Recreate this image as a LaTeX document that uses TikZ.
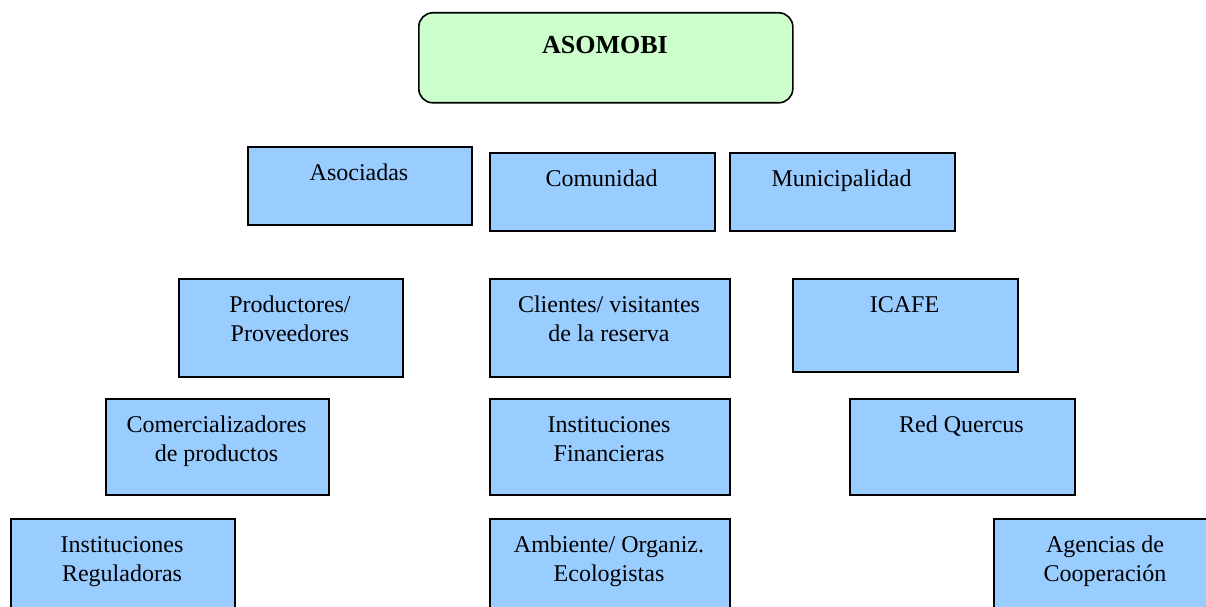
\documentclass[tikz,border=0pt]{standalone}
\usepackage{fontspec}
\setmainfont{Liberation Serif}
\definecolor{boxblue}{HTML}{99CCFF}
\definecolor{boxgreen}{HTML}{CCFFCC}
\begin{document}
\begin{tikzpicture}[x=1pt,y=-1pt,
  box/.style={draw=black, line width=1.6pt, fill=boxblue, rectangle, inner sep=0pt, anchor=north west},
  rootbox/.style={draw=black, line width=1.6pt, fill=boxgreen, rounded corners=14pt, rectangle, inner sep=0pt, anchor=north west},
  txt/.style={anchor=base, align=center, inner sep=0pt, font=\fontsize{24}{29}\selectfont},
  roottxt/.style={anchor=base, inner sep=0pt, font=\fontsize{26}{30}\selectfont\bfseries}]
\useasboundingbox (0,0) rectangle (1206,607);
\begin{scope}
\clip (0,0) rectangle (1206,607);
% root
\node[rootbox, minimum width=374pt, minimum height=90pt] (root) at (418,12) {};
\node[roottxt] (roott) at (605,54) {ASOMOBI};
% row 1
\node[box, minimum width=224pt, minimum height=78pt] (asoc) at (247,146) {};
\node[txt] (asoct) at (359,180) {Asociadas};
\node[box, minimum width=225pt, minimum height=78pt] (comu) at (489,152) {};
\node[txt] (comut) at (601.5,186) {Comunidad};
\node[box, minimum width=225pt, minimum height=78pt] (muni) at (729,152) {};
\node[txt] (munit) at (841.5,186) {Municipalidad};
% row 2
\node[box, minimum width=224pt, minimum height=98pt] (prod) at (178,278) {};
\node[txt] (prodt) at (290,341) {Productores/\\Proveedores};
\node[box, minimum width=240pt, minimum height=98pt] (clie) at (489,278) {};
\node[txt] (cliet) at (609,341) {Clientes/ visitantes\\de la reserva};
\node[box, minimum width=225pt, minimum height=93pt] (icafe) at (792,278) {};
\node[txt] (icafet) at (904.5,312) {ICAFE};
% row 3
\node[box, minimum width=223pt, minimum height=96pt] (come) at (105,398) {};
\node[txt] (comet) at (216.5,461) {Comercializadores\\de productos};
\node[box, minimum width=240pt, minimum height=96pt] (fina) at (489,398) {};
\node[txt] (finat) at (609,461) {Instituciones\\Financieras};
\node[box, minimum width=225pt, minimum height=96pt] (quer) at (849,398) {};
\node[txt] (quert) at (961.5,432) {Red Quercus};
% row 4
\node[box, minimum width=224pt, minimum height=100pt] (regu) at (10,518) {};
\node[txt] (regut) at (122,581) {Instituciones\\Reguladoras};
\node[box, minimum width=240pt, minimum height=100pt] (ambi) at (489,518) {};
\node[txt] (ambit) at (609,581) {Ambiente/ Organiz.\\Ecologistas};
\node[box, minimum width=225pt, minimum height=100pt] (agen) at (993,518) {};
\node[txt] (agent) at (1105,581) {Agencias de\\Cooperación};
\end{scope}
\end{tikzpicture}
\end{document}
